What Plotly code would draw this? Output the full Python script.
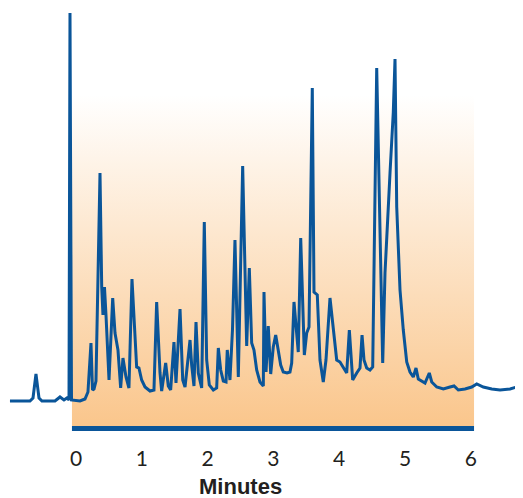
import plotly.graph_objects as go

# Chromatogram trace (time in minutes, detector signal in arbitrary units)
minutes = [-1.003, -0.699, -0.653, -0.608, -0.562, -0.517, -0.319, -0.243, -0.182, -0.137,
           -0.106, -0.091, -0.068, 0.061, 0.137, 0.182, 0.228, 0.251, 0.274, 0.304,
           0.365, 0.391, 0.410, 0.433, 0.456, 0.502, 0.558, 0.593, 0.638, 0.679,
           0.714, 0.760, 0.805, 0.851, 0.922, 0.957, 0.998, 1.049, 1.125, 1.185,
           1.226, 1.277, 1.302, 1.363, 1.403, 1.439, 1.489, 1.520, 1.581, 1.622,
           1.657, 1.682, 1.733, 1.758, 1.793, 1.824, 1.859, 1.910, 1.950, 1.986,
           2.026, 2.087, 2.138, 2.163, 2.199, 2.239, 2.280, 2.299, 2.340, 2.378,
           2.416, 2.467, 2.533, 2.594, 2.634, 2.670, 2.705, 2.746, 2.796, 2.847,
           2.857, 2.888, 2.922, 2.959, 2.998, 3.035, 3.074, 3.111, 3.150, 3.207,
           3.252, 3.278, 3.313, 3.354, 3.378, 3.415, 3.470, 3.506, 3.541, 3.591,
           3.617, 3.667, 3.708, 3.758, 3.799, 3.860, 3.910, 3.962, 4.012, 4.062,
           4.114, 4.154, 4.205, 4.266, 4.316, 4.347, 4.377, 4.418, 4.468, 4.509,
           4.570, 4.661, 4.696, 4.772, 4.822, 4.848, 4.874, 4.924, 4.974, 5.026,
           5.076, 5.126, 5.167, 5.202, 5.304, 5.369, 5.406, 5.482, 5.582, 5.684,
           5.745, 5.810, 5.912, 6.014, 6.090, 6.190, 6.318, 6.444, 6.596, 6.698,
           6.737, 6.748, 6.793]
signal = [-0.25, -0.25, 0.5, 6.5, 0.5, -0.25, -0.25, 0.75, 0, 0.5,
          0, 96.75, 0, -0.25, 0.25, 2, 14.25, 2.5, 2.75, 4.75,
          56.75, 28.25, 21.25, 28.25, 21.25, 5, 25.5, 16.75, 12.5, 3,
          10.5, 5.75, 3, 30.25, 8.25, 8, 5, 3.25, 2.25, 2.5,
          24.5, 6.75, 2.25, 9.25, 3.5, 2.5, 14.5, 4.25, 22.75, 5,
          3.25, 7.5, 15, 8.75, 3.5, 19.5, 6.75, 3, 44.5, 10,
          3.75, 2.5, 3, 13, 7.5, 4.75, 4.5, 12.5, 5, 17.5,
          40, 5.75, 58.5, 13.5, 33, 14.25, 12.5, 7.5, 4.5, 3.5,
          27, 7, 18.5, 6.5, 13.25, 16.25, 12.5, 8.75, 7, 6.75,
          7, 9.25, 24.5, 15.75, 12, 40.5, 11.25, 16.75, 18.25, 78,
          27, 26.25, 10, 4.5, 10, 25.5, 17, 10, 9.5, 8,
          6.75, 17.5, 5, 6.75, 8, 16.25, 10, 8, 7.5, 8.25,
          83, 9.25, 31.75, 56.75, 72, 85.25, 48.25, 27.5, 17.5, 9.5,
          7, 5.75, 8, 5.25, 4.25, 6.75, 4.5, 3.25, 2.75, 3.25,
          3.5, 2.5, 2.75, 3.25, 4, 3.25, 2.75, 2.5, 2.75, 3.25,
          3.5, 3, 3.75]

tick_values = [0, 1, 2, 3, 4, 5, 6]
tick_labels = ["0", "1", "2", "3", "4", "5", "6"]

# Shaded run window
window_x = [-0.061, 6.049]
window_y = [-6.5, 76.25]
bar_y = [-7.75, -6.5]

LINE_BLUE = "#0a5599"

fig = go.Figure()

fig.add_trace(go.Scatter(
    x=[window_x[0], window_x[1], window_x[1], window_x[0], window_x[0]],
    y=[window_y[0], window_y[0], window_y[1], window_y[1], window_y[0]],
    mode="lines", line=dict(width=0), fill="toself",
    fillgradient=dict(type="vertical",
                      colorscale=[[0, "#fac68c"], [1, "#ffffff"]]),
    hoverinfo="skip", showlegend=False,
))

fig.add_shape(type="rect", xref="x", yref="y",
              x0=window_x[0], x1=window_x[1], y0=bar_y[0], y1=bar_y[1],
              fillcolor=LINE_BLUE, line=dict(width=0), layer="above")

fig.add_trace(go.Scatter(
    x=minutes, y=signal, mode="lines",
    line=dict(color=LINE_BLUE, width=3), showlegend=False,
))

fig.add_annotation(text="<b>Minutes</b>", xref="paper", yref="paper",
                   x=0.4524, y=-0.1065, showarrow=False, xanchor="center",
                   yanchor="middle",
                   font=dict(family="Liberation Sans, Arial", size=22, color="#231f20"))

fig.update_layout(
    width=515, height=490,
    margin=dict(l=0, r=0, t=0, b=58),
    paper_bgcolor="white", plot_bgcolor="white",
    showlegend=False,
    xaxis=dict(range=[-1.033, 6.793], showgrid=False, zeroline=False,
               showline=False, ticks="", tickvals=tick_values, ticktext=tick_labels,
               ticklabelstandoff=4,
               tickfont=dict(family="Lato, DejaVu Sans", size=21, color="#231f20"),
               fixedrange=True),
    yaxis=dict(range=[-10, 98], visible=False, fixedrange=True),
)

fig.write_html("out.html", config={"displayModeBar": False})
